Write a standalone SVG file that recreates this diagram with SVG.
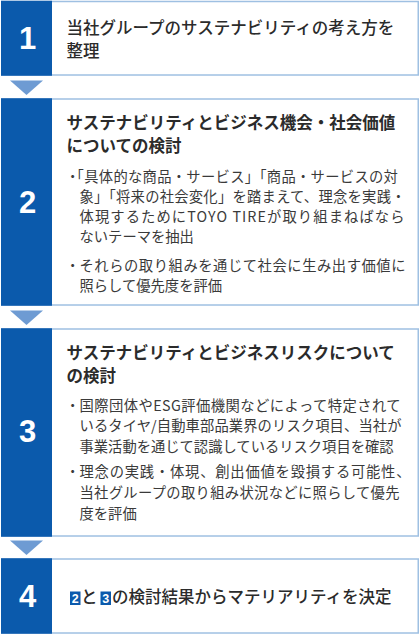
<svg xmlns="http://www.w3.org/2000/svg" width="420" height="635" viewBox="0 0 420 635">
<style>
.box{fill:#ffffff;stroke:#9fc0e2;stroke-width:1.5}
.col{fill:#0b5aac}
.num{font-family:"Liberation Sans",Arial,sans-serif;font-weight:bold;font-size:31px;fill:#ffffff;text-anchor:middle}
.t{font-family:"Noto Sans CJK JP","Noto Sans",sans-serif;font-size:16.5px;fill:#2b2b2b}
.tm{font-weight:500}
.tb{font-weight:bold}
.b{font-family:"Noto Sans CJK JP","Noto Sans",sans-serif;font-size:14.3px;fill:#3a3a3a}
.arr{fill:#6e9bd3}
.badge{fill:#0b5aac}
.bn{font-family:"Liberation Sans",Arial,sans-serif;font-weight:bold;font-size:12.5px;fill:#ffffff;text-anchor:middle}
</style>
<rect width="420" height="635" fill="#ffffff"/>
<g id="connectors">
<polygon class="arr" points="10,80.5 43,80.5 26.5,95"/>
<polygon class="arr" points="10,310.5 43,310.5 26.5,325"/>
<polygon class="arr" points="10,540.5 43,540.5 26.5,555"/>
</g>
<g id="step1">
<rect class="box" x="1.75" y="1.5" width="416.5" height="73.5"/>
<rect class="col" x="1" y="0.75" width="51" height="75"/>
<text class="num" x="27.5" y="49">1</text>
<text class="t tm"><tspan x="66.5" y="34.1">当社グループのサステナビリティの考え方を</tspan><tspan x="66.5" y="57.4">整理</tspan></text>
</g>
<g id="step2">
<rect class="box" x="1.75" y="99" width="416.5" height="206"/>
<rect class="col" x="1" y="98.25" width="51" height="207.5"/>
<text class="num" x="27.5" y="212.5">2</text>
<text class="t tb"><tspan x="66.5" y="129.1">サステナビリティとビジネス機会・社会価値</tspan><tspan x="66.5" y="152.4">についての検討</tspan></text>
<text class="b" x="65.5 69.6" y="181.5" style="letter-spacing:0.3px">・「具体的な商品・サービス」「商品・サービスの対</text>
<text class="b" x="79.5" y="201.7" textLength="326" lengthAdjust="spacing">象」「将来の社会変化」を踏まえて、理念を実践・</text>
<text class="b" x="79.5" y="221.9" textLength="325" lengthAdjust="spacing">体現するためにTOYO TIREが取り組まねばなら</text>
<text class="b" x="79.5" y="242.1">ないテーマを抽出</text>
<text class="b" x="65.5" y="270.5">・</text>
<text class="b" x="79.5" y="270.5" textLength="326" lengthAdjust="spacing">それらの取り組みを通じて社会に生み出す価値に</text>
<text class="b" x="79.5" y="290.7">照らして優先度を評価</text>
</g>
<g id="step3">
<rect class="box" x="1.75" y="329" width="416.5" height="207"/>
<rect class="col" x="1" y="328.25" width="51" height="208.5"/>
<text class="num" x="27.5" y="442">3</text>
<text class="t tb"><tspan x="66.5" y="358.9">サステナビリティとビジネスリスクについて</tspan><tspan x="66.5" y="382.2">の検討</tspan></text>
<text class="b" x="65.5" y="410.5">・</text>
<text class="b" x="79.5" y="410.5" textLength="321" lengthAdjust="spacing">国際団体やESG評価機関などによって特定されて</text>
<text class="b" x="79.5" y="431" textLength="322" lengthAdjust="spacing">いるタイヤ/自動車部品業界のリスク項目、当社が</text>
<text class="b" x="79.5" y="452">事業活動を通じて認識しているリスク項目を確認</text>
<text class="b" x="65.5" y="477">・</text>
<text class="b" x="79.5" y="477" textLength="331" lengthAdjust="spacing">理念の実践・体現、創出価値を毀損する可能性、</text>
<text class="b" x="79.5" y="497.5" textLength="320" lengthAdjust="spacing">当社グループの取り組み状況などに照らして優先</text>
<text class="b" x="79.5" y="518.5">度を評価</text>
</g>
<g id="step4">
<rect class="box" x="1.75" y="559" width="416.5" height="74"/>
<rect class="col" x="1" y="558.25" width="51" height="75.5"/>
<text class="num" x="27.5" y="607">4</text>
<rect class="badge" x="70" y="591.5" width="10.5" height="13.5"/>
<text class="bn" x="75.25" y="603">2</text>
<text class="t tm" x="81" y="603">と</text>
<rect class="badge" x="100.5" y="591.5" width="10.5" height="13.5"/>
<text class="bn" x="105.75" y="603">3</text>
<text class="t tm" x="112" y="603">の検討結果からマテリアリティを決定</text>
</g>
</svg>
